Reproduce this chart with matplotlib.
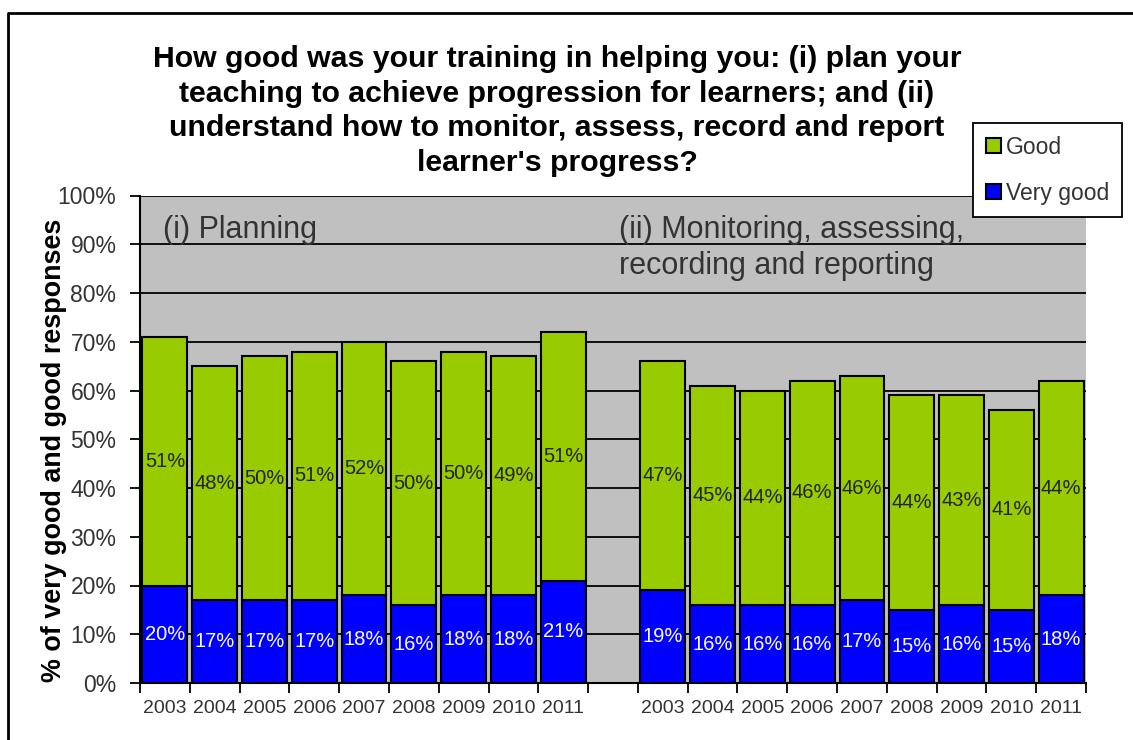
import matplotlib
matplotlib.use('Agg')
import matplotlib.pyplot as plt
from matplotlib.lines import Line2D
import numpy as np

# ---- data ----
years = ['2003', '2004', '2005', '2006', '2007', '2008', '2009', '2010', '2011']
planning_very_good = [20, 17, 17, 17, 18, 16, 18, 18, 21]
planning_good = [51, 48, 50, 51, 52, 50, 50, 49, 51]
monitoring_very_good = [19, 16, 16, 16, 17, 15, 16, 15, 18]
monitoring_good = [47, 45, 44, 46, 46, 44, 43, 41, 44]
series_labels = ['Good', 'Very good']
y_ticks = [0, 10, 20, 30, 40, 50, 60, 70, 80, 90, 100]
group_labels = ['(i) Planning', '(ii) Monitoring, assessing,\nrecording and reporting']
title = ("How good was your training in helping you: (i) plan your\n"
         "teaching to achieve progression for learners; and (ii)\n"
         "understand how to monitor, assess, record and report\n"
         "learner's progress?")
ylabel = '% of very good and good responses'

plt.rcParams['font.family'] = ['Liberation Sans', 'DejaVu Sans']

GREEN = '#99CC00'
BLUE = '#0000FF'
TXT = '#333333'

fig = plt.figure(figsize=(11.33, 7.40), dpi=100)
W, H = 1133, 740
ax = fig.add_axes([140 / W, 1 - 683 / H, (1086 - 140) / W, (683 - 195.5) / H])
ax.set_facecolor('#C0C0C0')

n = len(years)
x_plan = np.arange(n)
x_mon = np.arange(n) + n + 1
bw = 0.9

groups = [(x_plan, planning_very_good, planning_good),
          (x_mon, monitoring_very_good, monitoring_good)]
handles = None
for xs, vg, gd in groups:
    b1 = ax.bar(xs, vg, width=bw, color=BLUE, edgecolor='black', linewidth=1.5, zorder=3)
    b2 = ax.bar(xs, gd, width=bw, bottom=vg, color=GREEN, edgecolor='black', linewidth=1.5, zorder=3)
    ax.bar_label(b1, labels=[f'{v}%' for v in vg], label_type='center', color='white', fontsize=14.5, zorder=4)
    ax.bar_label(b2, labels=[f'{v}%' for v in gd], label_type='center', color='#222222', fontsize=14.5, zorder=4)
    if handles is None:
        handles = [b2, b1]

ax.set_xlim(-0.5, 2 * n + 0.5)
ax.set_ylim(0, 100)
ax.set_yticks(y_ticks)
ax.set_yticklabels([f'{v}%' for v in y_ticks], fontsize=16.5, color=TXT)
ax.yaxis.grid(True, color='black', linewidth=1.3)
ax.set_axisbelow(True)

ax.set_xticks(list(x_plan) + list(x_mon))
ax.set_xticklabels(years + years, fontsize=14, color=TXT)
ax.set_xticks(np.arange(-0.5, 2 * n + 1, 1.0), minor=True)
ax.tick_params(axis='x', which='major', length=0, pad=12)
ax.tick_params(axis='x', which='minor', length=7, width=1.3, direction='out', color='black')
ax.tick_params(axis='y', length=7, width=1.3, direction='out', color='black', pad=10)

for s in ['top', 'right']:
    ax.spines[s].set_visible(False)
for s in ['left', 'bottom']:
    ax.spines[s].set_color('black')
    ax.spines[s].set_linewidth(1.5)

ax.set_ylabel(ylabel, fontsize=19.4, fontweight='bold', color='black', labelpad=6)
ax.yaxis.set_label_coords((67 - 140) / (1086 - 140), 0.477)

ax.text(-0.04, 96.0, group_labels[0], fontsize=22, color=TXT, va='top', ha='left', linespacing=1.25)
ax.text(9.12, 96.0, group_labels[1], fontsize=22, color=TXT, va='top', ha='left', linespacing=1.25)

fig.text(557 / W, 1 - 111 / H, title, fontsize=21.8, fontweight='bold', ha='center', va='center',
         linespacing=1.3, color='black')

leg = ax.legend(handles=handles, labels=series_labels, loc='upper left',
                bbox_to_anchor=(973 / W, 1 - 123 / H), bbox_transform=fig.transFigure,
                borderaxespad=0, fontsize=16.5, frameon=True, fancybox=False,
                handlelength=0.65, handleheight=0.65, handletextpad=0.25,
                labelspacing=1.0, borderpad=0.55)
leg.get_frame().set_edgecolor('black')
leg.get_frame().set_linewidth(1.3)
leg.get_frame().set_facecolor('white')
leg.get_frame().set_alpha(1)
for t in leg.get_texts():
    t.set_color(TXT)

# figure border (left and top edges visible)
fig.add_artist(Line2D([8 / W, 8 / W, 1.0], [0.0, 1 - 13 / H, 1 - 13 / H],
                      transform=fig.transFigure, color='black', linewidth=2))

fig.savefig('out.png', dpi=100)
